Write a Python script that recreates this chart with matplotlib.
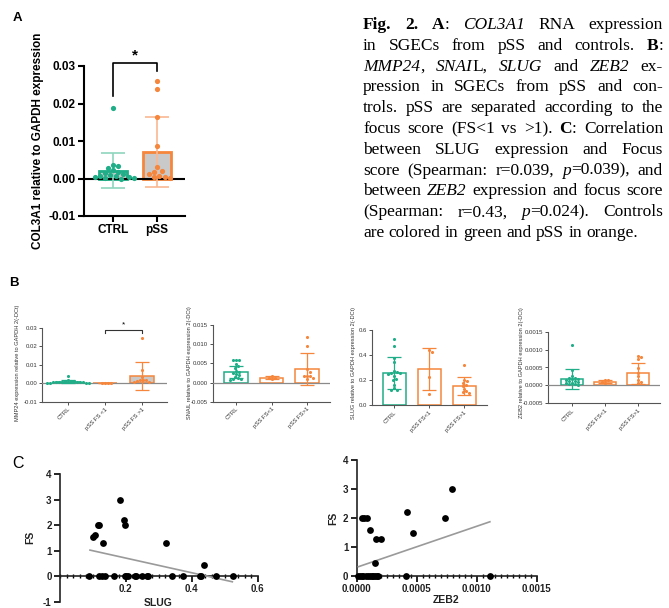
import matplotlib
matplotlib.use("Agg")
import matplotlib.pyplot as plt
from matplotlib.ticker import MultipleLocator
from matplotlib.font_manager import FontProperties
import numpy as np

plt.rcParams['font.family'] = ['Liberation Sans', 'DejaVu Sans']

# ---------------- data ----------------
# Panel A
a_groups = ["CTRL", "pSS"]
a_mean = [0.0021, 0.0070]
a_sd = [0.0047, 0.0093]
a_ctrl = [0.0188, 0.0036, 0.0033, 0.0028, 0.0022, 0.0018, 0.0015, 0.0012,
          0.0010, 0.0008, 0.0006, 0.0004, 0.0003, 0.0002, 0.0001, 0.0000]
a_pss = [0.0259, 0.0238, 0.0164, 0.0087, 0.0030, 0.0020, 0.0018, 0.0012,
         0.0008, 0.0005, 0.0003, 0.0001]

# Panel B
mmp_groups = ["CTRL", "pSS FS <1", "pSS FS >1"]
b_groups = ["CTRL", "pSS FS<1", "pSS FS>1"]

mmp_mean = [0.0008, 0.0002, 0.0040]
mmp_sd = [0.0007, 0.0001, 0.0075]
mmp_ctrl = [0.0038, 0.0015, 0.0012, 0.0010, 0.0010, 0.0008, 0.0008, 0.0007,
            0.0006, 0.0005, 0.0005, 0.0004, 0.0003, 0.0003, 0.0002, 0.0001]
mmp_fs1 = [0.0003, 0.0002, 0.0002, 0.0001]
mmp_fs2 = [0.0245, 0.0072, 0.0035, 0.0020, 0.0018, 0.0015, 0.0010, 0.0008, 0.0005]

snail_mean = [0.0028, 0.0012, 0.0036]
snail_sd = [0.0015, 0.0004, 0.0042]
snail_ctrl = [0.0060, 0.0060, 0.0059, 0.0049, 0.0042, 0.0038, 0.0030, 0.0028,
              0.0026, 0.0022, 0.0019, 0.0015, 0.0012, 0.0010, 0.0008, 0.0006]
snail_fs1 = [0.0017, 0.0013, 0.0011, 0.0009]
snail_fs2 = [0.0119, 0.0095, 0.0034, 0.0028, 0.0018, 0.0017, 0.0016, 0.0012, 0.0008]

slug_mean = [0.256, 0.290, 0.157]
slug_sd = [0.128, 0.165, 0.072]
slug_ctrl = [0.525, 0.470, 0.380, 0.345, 0.270, 0.265, 0.260, 0.255,
             0.250, 0.230, 0.210, 0.200, 0.165, 0.135, 0.125, 0.120]
slug_fs1 = [0.440, 0.425, 0.225, 0.090]
slug_fs2 = [0.322, 0.200, 0.195, 0.180, 0.165, 0.150, 0.130, 0.110, 0.105, 0.100]

zeb_mean = [0.000176, 0.000100, 0.000340]
zeb_sd = [0.000280, 0.000040, 0.000290]
zeb_ctrl = [0.00112, 0.00042, 0.00025, 0.00022, 0.00020, 0.00018, 0.00017, 0.00015,
            0.00013, 0.00012, 0.00010, 0.00008, 0.00006, 0.00005, 0.00003, 0.00002]
zeb_fs1 = [0.00016, 0.00015, 0.00010, 0.00008]
zeb_fs2 = [0.00082, 0.00079, 0.00074, 0.00048, 0.00035, 0.00026, 0.00015, 0.00010, 0.00007]

# Panel C
c_slug_x = [0.101, 0.106, 0.114, 0.118, 0.131, 0.183, 0.194, 0.196, 0.323, 0.438,
            0.089, 0.119, 0.128, 0.137, 0.165, 0.196, 0.201, 0.206, 0.227, 0.231,
            0.249, 0.264, 0.268, 0.341, 0.374, 0.426, 0.429, 0.474, 0.525]
c_slug_fs = [1.52, 1.60, 2.00, 2.00, 1.30, 3.00, 2.20, 2.00, 1.30, 0.45,
             0, 0, 0, 0, 0, 0, 0, 0, 0, 0,
             0, 0, 0, 0, 0, 0, 0, 0, 0]
c_slug_fit_x = [0.091, 0.523]
c_slug_fit_y = [1.02, -0.22]

c_zeb_x = [0.000042, 0.000061, 0.000083, 0.000110, 0.000158, 0.000203, 0.000153,
           0.000417, 0.000467, 0.000736, 0.000792,
           0.000014, 0.000028, 0.000042, 0.000056, 0.000078, 0.000097, 0.000110,
           0.000125, 0.000139, 0.000153, 0.000167, 0.000180, 0.000410, 0.001110]
c_zeb_fs = [2.0, 2.0, 2.0, 1.59, 1.29, 1.29, 0.45,
            2.2, 1.49, 2.0, 3.0,
            0, 0, 0, 0, 0, 0, 0, 0, 0, 0, 0, 0, 0, 0]
c_zeb_fit_x = [0.000014, 0.001110]
c_zeb_fit_y = [0.32, 1.87]

caption_lines = [
    "*Fig.* *2.* *A*: _COL3A1_ RNA expression",
    "in SGECs from pSS and controls. *B*:",
    "_MMP24_, _SNAI_L, _SLUG_ and _ZEB2_ ex-",
    "pression in SGECs from pSS and con-",
    "trols. pSS are separated according to the",
    "focus score (FS<1 vs >1). *C*: Correlation",
    "between SLUG expression and Focus",
    "score (Spearman: r=0.039, _p_=0.039), and",
    "between _ZEB2_ expression and focus score",
    "(Spearman: r=0.43, _p_=0.024). Controls",
    "are colored in green and pSS in orange.",
]

# ---------------- style ----------------
GREEN = '#1fae87'
ORANGE = '#f5863b'
GREEN_L = '#8fd5bf'
ORANGE_L = '#f8b892'
GRAY = '#c9c9c9'

W, H = 669, 608
fig = plt.figure(figsize=(W / 100, H / 100), dpi=100)


def ax_px(L, T, R, B):
    return fig.add_axes([L / W, 1 - B / H, (R - L) / W, (B - T) / H])


def swarm_x(ax, xc, vals, diam):
    tr = ax.transData
    x0 = tr.transform((xc, 0))[0]
    ppu = tr.transform((xc + 1, 0))[0] - x0
    placed, xs = [], []
    step = diam * 0.5
    for v in vals:
        yp = tr.transform((xc, v))[1]
        k = 0
        while True:
            if k == 0:
                off = 0.0
            else:
                off = ((k + 1) // 2) * step * (1 if k % 2 == 1 else -1)
            if all((px - (x0 + off)) ** 2 + (py - yp) ** 2 >= 0.9 * diam ** 2 for px, py in placed):
                break
            k += 1
        placed.append((x0 + off, yp))
        xs.append(xc + off / ppu)
    return xs


def ftxt(x, y, s, **kw):
    return fig.text(x / W, 1 - y / H, s, **kw)


# ---------------- Panel A ----------------
ftxt(17, 18, "A", fontsize=9.5, fontweight='bold', ha='center', va='center')
axA = ax_px(84, 66, 185, 216)
axA.set_xlim(-0.66, 1.64)
axA.set_ylim(-0.01, 0.03)
axA.bar([0, 1], a_mean, width=0.65, color=GRAY, edgecolor=[GREEN, ORANGE],
        linewidth=2, zorder=2)
axA.axhline(0, color='black', lw=1.5, zorder=3)
for i, (m, s, c) in enumerate(zip(a_mean, a_sd, [GREEN_L, ORANGE_L])):
    axA.errorbar(i, m, yerr=s, fmt='none', ecolor=c, elinewidth=1.2,
                 capsize=8.5, capthick=1.2, zorder=4)
for i, (vals, c) in enumerate(zip([a_ctrl, a_pss], [GREEN, ORANGE])):
    xs = swarm_x(axA, i, vals, 5.2)
    axA.scatter(xs, vals, s=14, color=c, zorder=5, linewidths=0)
for sp in ['top', 'right']:
    axA.spines[sp].set_visible(False)
for sp in ['left', 'bottom']:
    axA.spines[sp].set_linewidth(1.5)
a_yt = [-0.01, 0.0, 0.01, 0.02, 0.03]
axA.set_yticks(a_yt)
axA.set_yticklabels([f"{v:.2f}" for v in a_yt], fontsize=8.5, fontweight='bold')
axA.set_xticks([0, 1])
axA.set_xticklabels(a_groups, fontsize=8.5, fontweight='bold')
axA.tick_params(width=1.5, length=4, pad=2)
axA.plot([0, 0, 1, 1], [0.0219, 0.0307, 0.0307, 0.0288], color='black', lw=1.2,
         clip_on=False)
axA.text(0.5, 0.0328, "*", ha='center', va='center', fontsize=11, fontweight='bold')
ftxt(38, 141, "COL3A1 relative to GAPDH expression", rotation=90, fontsize=8.5,
     fontweight='bold', ha='center', va='center')

# ---------------- Caption ----------------
serif = 'Liberation Serif'
CAP_SIZE = 12.5
fps = {'n': FontProperties(family=serif, size=CAP_SIZE),
       'b': FontProperties(family=serif, size=CAP_SIZE, weight='bold'),
       'i': FontProperties(family=serif, size=CAP_SIZE, style='italic')}
renderer = fig.canvas.get_renderer()


def parse_word(w):
    segs, style, cur = [], 'n', ''
    for ch in w:
        if ch in '*_':
            if cur:
                segs.append((cur, style))
                cur = ''
            tgt = 'b' if ch == '*' else 'i'
            style = 'n' if style == tgt else tgt
        else:
            cur += ch
    if cur:
        segs.append((cur, style))
    return segs


def text_w(s, st):
    t = fig.text(0, 0, s, fontproperties=fps[st])
    w = t.get_window_extent(renderer).width
    t.remove()
    return w


space_w = text_w("a a", 'n') - text_w("aa", 'n')
CAP_L, CAP_R = 363, 663
for li, line in enumerate(caption_lines):
    words = [parse_word(w) for w in line.split(' ')]
    widths = [[text_w(s, st) for s, st in wd] for wd in words]
    tot = sum(sum(w) for w in widths)
    last = li == len(caption_lines) - 1
    gap = space_w if last else (CAP_R - CAP_L - tot) / (len(words) - 1)
    x = CAP_L
    yb = 29 + 20.8 * li
    for wd, ws in zip(words, widths):
        for (s, st), w in zip(wd, ws):
            ftxt(x, yb, s, fontproperties=fps[st], ha='left', va='baseline')
            x += w
        x += gap

# ---------------- Panel B ----------------
ftxt(14, 283, "B", fontsize=9.5, fontweight='bold', ha='center', va='center')

b_specs = [
    dict(box=(42, 327.7, 167, 401.7), xlim=(-0.70, 2.68), ylim=(-0.01, 0.03),
         yt=[-0.01, 0.0, 0.01, 0.02, 0.03], fmt="{:.2f}",
         mean=mmp_mean, sd=mmp_sd, pts=[mmp_ctrl, mmp_fs1, mmp_fs2],
         face=['none', 'none', GRAY], xl=mmp_groups,
         ylabel="MMP24 expression relative to GAPDH 2(-DCt)", ylx=18, zero=True),
    dict(box=(213, 325, 330, 401.7), xlim=(-0.65, 2.65), ylim=(-0.005, 0.015),
         yt=[-0.005, 0.0, 0.005, 0.010, 0.015], fmt="{:.3f}",
         mean=snail_mean, sd=snail_sd, pts=[snail_ctrl, snail_fs1, snail_fs2],
         face=['none', 'none', 'none'], xl=b_groups,
         ylabel="SNAIL relative to GAPDH expression 2(-DCt)", ylx=190, zero=True),
    dict(box=(372, 330, 487, 405.3), xlim=(-0.64, 2.66), ylim=(0, 0.6),
         yt=[0.0, 0.2, 0.4, 0.6], fmt="{:.1f}",
         mean=slug_mean, sd=slug_sd, pts=[slug_ctrl, slug_fs1, slug_fs2],
         face=['none', 'none', 'none'], xl=b_groups,
         ylabel="SLUG relative to GAPDH expression 2(-DCt)", ylx=353, zero=False),
    dict(box=(548, 331.7, 660, 403.3), xlim=(-0.72, 2.67), ylim=(-0.0005, 0.0015),
         yt=[-0.0005, 0.0, 0.0005, 0.0010, 0.0015], fmt="{:.4f}",
         mean=zeb_mean, sd=zeb_sd, pts=[zeb_ctrl, zeb_fs1, zeb_fs2],
         face=['none', 'none', 'none'], xl=b_groups,
         ylabel="ZEB2 relative to GAPDH expression 2(-DCt)", ylx=522, zero=True),
]
b_cols = [GREEN, ORANGE, ORANGE]
AXC = '#555555'
b_axes = []
for sp_ in b_specs:
    ax = ax_px(*sp_['box'])
    b_axes.append(ax)
    ax.set_xlim(*sp_['xlim'])
    ax.set_ylim(*sp_['ylim'])
    ax.bar([0, 1, 2], sp_['mean'], width=0.66, color=sp_['face'],
           edgecolor=b_cols, linewidth=1.1, zorder=2)
    if sp_['zero']:
        ax.axhline(0, color='#8a8a8a', lw=0.9, zorder=3)
    for i in range(3):
        ax.errorbar(i, sp_['mean'][i], yerr=sp_['sd'][i], fmt='none', ecolor=b_cols[i],
                    elinewidth=0.9, capsize=5, capthick=0.9, zorder=4)
        xs = swarm_x(ax, i, sp_['pts'][i], 3.0)
        ax.scatter(xs, sp_['pts'][i], s=5, color=b_cols[i], zorder=5, linewidths=0)
    for s in ['top', 'right']:
        ax.spines[s].set_visible(False)
    for s in ['left', 'bottom']:
        ax.spines[s].set_color(AXC)
        ax.spines[s].set_linewidth(0.8)
    ax.set_yticks(sp_['yt'])
    ax.set_yticklabels([sp_['fmt'].format(v) for v in sp_['yt']], fontsize=4.3)
    ax.set_xticks([0, 1, 2])
    ax.set_xticklabels(sp_['xl'], fontsize=4.3, rotation=45, ha='right', va='top',
                       rotation_mode='anchor')
    ax.tick_params(length=2, width=0.6, pad=1.5, colors='#333333')
    ftxt(sp_['ylx'], 363, sp_['ylabel'], rotation=90, fontsize=4.1, ha='center',
         va='center', color='#333333')

# significance bracket in MMP24
axM = b_axes[0]
axM.plot([1, 1, 2, 2], [0.0272, 0.0289, 0.0289, 0.0272], color='#333333', lw=0.8,
         clip_on=False)
axM.text(1.5, 0.0315, "*", ha='center', va='center', fontsize=6)

# ---------------- Panel C ----------------
ftxt(18, 463, "C", fontsize=11.5, ha='center', va='center')


def c_axes(box, xlim, ylim, xmaj, xlabels, xminor, x, y, fx, fy, xlabel, ylx, yly):
    ax = ax_px(*box)
    ax.set_xlim(*xlim)
    ax.set_ylim(*ylim)
    ax.scatter(x, y, s=24, color='black', zorder=4, clip_on=False, linewidths=0)
    ax.plot(fx, fy, color='#9a9a9a', lw=1.2, zorder=3)
    for s in ['top', 'right']:
        ax.spines[s].set_visible(False)
    ax.spines['bottom'].set_position(('data', 0))
    for s in ['left', 'bottom']:
        ax.spines[s].set_linewidth(1.2)
        ax.spines[s].set_color('#222222')
    ax.set_xticks(xmaj)
    ax.set_xticklabels(xlabels, fontsize=7, fontweight='bold', color='#222222')
    ax.xaxis.set_minor_locator(MultipleLocator(xminor))
    ax.tick_params(axis='x', which='major', direction='out', length=4, width=1.2, pad=2)
    ax.tick_params(axis='x', which='minor', direction='inout', length=3.5, width=1)
    yt = list(range(int(ylim[0]), int(ylim[1]) + 1))
    ax.set_yticks(yt)
    ax.set_yticklabels([str(v) for v in yt], fontsize=7, fontweight='bold', color='#222222')
    ax.tick_params(axis='y', length=4, width=1.2, pad=2)
    ftxt(ylx, yly, "FS", rotation=90, fontsize=7.5, fontweight='bold', ha='center',
         va='center', color='#222222')
    return ax


axC1 = c_axes((60, 474, 257.7, 601.7), (0, 0.6), (-1, 4), [0.2, 0.4, 0.6],
              ["0.2", "0.4", "0.6"], 0.02, c_slug_x, c_slug_fs,
              c_slug_fit_x, c_slug_fit_y, "SLUG", 30, 537)
ftxt(158, 603, "SLUG", fontsize=7.5, fontweight='bold', ha='center', va='center',
     color='#222222')

axC2 = c_axes((356.7, 460, 536.7, 576), (0, 0.0015), (0, 4),
              [0, 0.0005, 0.0010, 0.0015], ["0.0000", "0.0005", "0.0010", "0.0015"],
              0.00005, c_zeb_x, c_zeb_fs, c_zeb_fit_x, c_zeb_fit_y, "ZEB2", 333, 518)
ftxt(446, 600, "ZEB2", fontsize=7.5, fontweight='bold', ha='center', va='center',
     color='#222222')

fig.savefig("out.png", dpi=100)
